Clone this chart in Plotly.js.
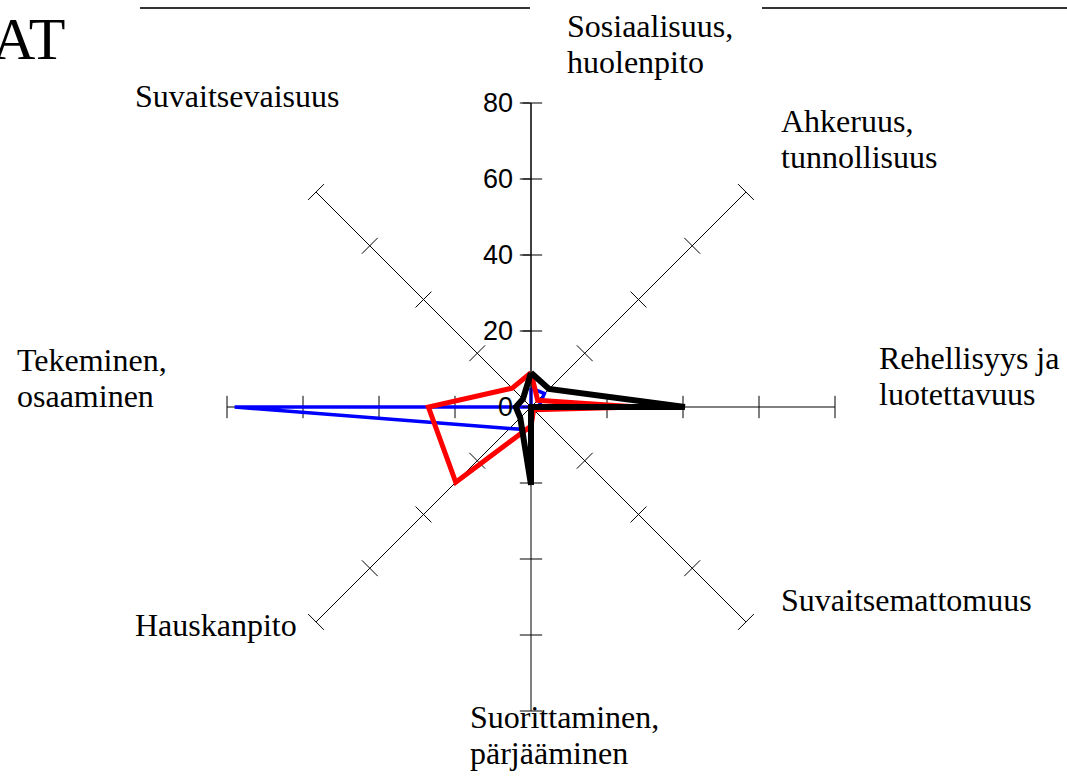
<!DOCTYPE html>
<html>
<head>
<meta charset="utf-8">
<script src="https://cdn.plot.ly/plotly-3.0.1.min.js"></script>
<style>
  html, body { margin: 0; padding: 0; background: #ffffff; }
  #chart { width: 1067px; height: 776px; }
</style>
</head>
<body>
<div id="chart"></div>
<script>
// ---- data ----
const categories = [
  'Sosiaalisuus,\nhuolenpito',
  'Ahkeruus,\ntunnollisuus',
  'Rehellisyys ja\nluotettavuus',
  'Suvaitsemattomuus',
  'Suorittaminen,\npärjääminen',
  'Hauskanpito',
  'Tekeminen,\nosaaminen',
  'Suvaitsevaisuus'
];
const seriesBlue  = [5, 5, 2, 1, 6, 8, 78, 0];
const seriesRed   = [9, 2.5, 28, 1, 5, 28, 27, 7];
const seriesBlack = [9, 6.7, 40.5, 0, 20.5, 4, 4, 3];
const radialTicks = [0, 20, 40, 60, 80];
const chartTitle = 'AT';

// ---- layout helpers (positions / styles) ----
const W = 1067, H = 776;
const labelPos = [ // left x, center y of first line (px)
  [565, 26], [779, 121], [877, 358], [779, 600],
  [468, 717], [133, 625], [15, 360], [133, 96]
];
const lineGap = 36;
const serif = 'Liberation Serif, Times New Roman, serif';
const sans = 'Liberation Sans, Arial, sans-serif';

function closed(a) { return a.concat([a[0]]); }

const traces = [];
// tick marks across every spoke
const tickR = [], tickTheta = [], tickAngle = [];
categories.forEach((c, i) => {
  radialTicks.filter(v => v > 0).forEach(v => {
    tickR.push(v); tickTheta.push(c); tickAngle.push(45 * i + 90);
  });
});
traces.push({
  type: 'scatterpolar', mode: 'markers', r: tickR, theta: tickTheta,
  marker: { symbol: 'line-ns', size: 16, angle: tickAngle, color: '#000', line: { color: '#000', width: 1 } },
  hoverinfo: 'skip', showlegend: false, cliponaxis: false
});
[[seriesBlue, '#0000ff', 3.5], [seriesRed, '#ff0000', 5], [seriesBlack, '#000000', 6]].forEach(([s, col, w]) => {
  traces.push({
    type: 'scatterpolar', mode: 'lines', r: closed(s), theta: closed(categories),
    line: { color: col, width: w }, showlegend: false, cliponaxis: false, hoverinfo: 'skip'
  });
});

const annotations = [];
categories.forEach((c, i) => {
  c.split('\n').forEach((ln, j) => {
    annotations.push({
      text: ln, xref: 'paper', yref: 'paper',
      x: labelPos[i][0] / W, y: 1 - (labelPos[i][1] + j * lineGap) / H,
      xanchor: 'left', yanchor: 'middle', showarrow: false,
      font: { family: serif, size: 32, color: '#000' }
    });
  });
});
annotations.push({
  text: chartTitle, xref: 'paper', yref: 'paper', x: 67 / W, y: 1 - 39 / H,
  xanchor: 'right', yanchor: 'middle', showarrow: false,
  font: { family: serif, size: 60, color: '#000' }
});

const layout = {
  width: W, height: H,
  margin: { l: 0, r: 0, t: 0, b: 0 },
  paper_bgcolor: '#ffffff',
  showlegend: false,
  polar: {
    domain: { x: [227 / W, 835 / W], y: [1 - 711 / H, 1 - 103 / H] },
    bgcolor: 'rgba(0,0,0,0)',
    radialaxis: {
      range: [0, 80], tickvals: radialTicks, ticktext: radialTicks.map(String),
      angle: 90, side: 'counterclockwise', ticks: 'outside', ticklen: 8, tickcolor: '#000',
      tickangle: 90,
      showline: true, linecolor: '#000', linewidth: 1, showgrid: false,
      tickfont: { family: sans, size: 27, color: '#000' }
    },
    angularaxis: {
      type: 'category', categoryorder: 'array', categoryarray: categories,
      direction: 'clockwise', rotation: 90,
      showgrid: true, gridcolor: '#000', gridwidth: 1,
      showline: false, showticklabels: false, ticks: ''
    }
  },
  shapes: [
    { type: 'line', xref: 'paper', yref: 'paper', x0: 140 / W, x1: 530 / W, y0: 1 - 8 / H, y1: 1 - 8 / H, line: { color: '#333', width: 2 } },
    { type: 'line', xref: 'paper', yref: 'paper', x0: 762 / W, x1: 1, y0: 1 - 8 / H, y1: 1 - 8 / H, line: { color: '#333', width: 2 } }
  ],
  annotations: annotations
};

Plotly.newPlot('chart', traces, layout, { displayModeBar: false, staticPlot: true });
</script>
</body>
</html>
